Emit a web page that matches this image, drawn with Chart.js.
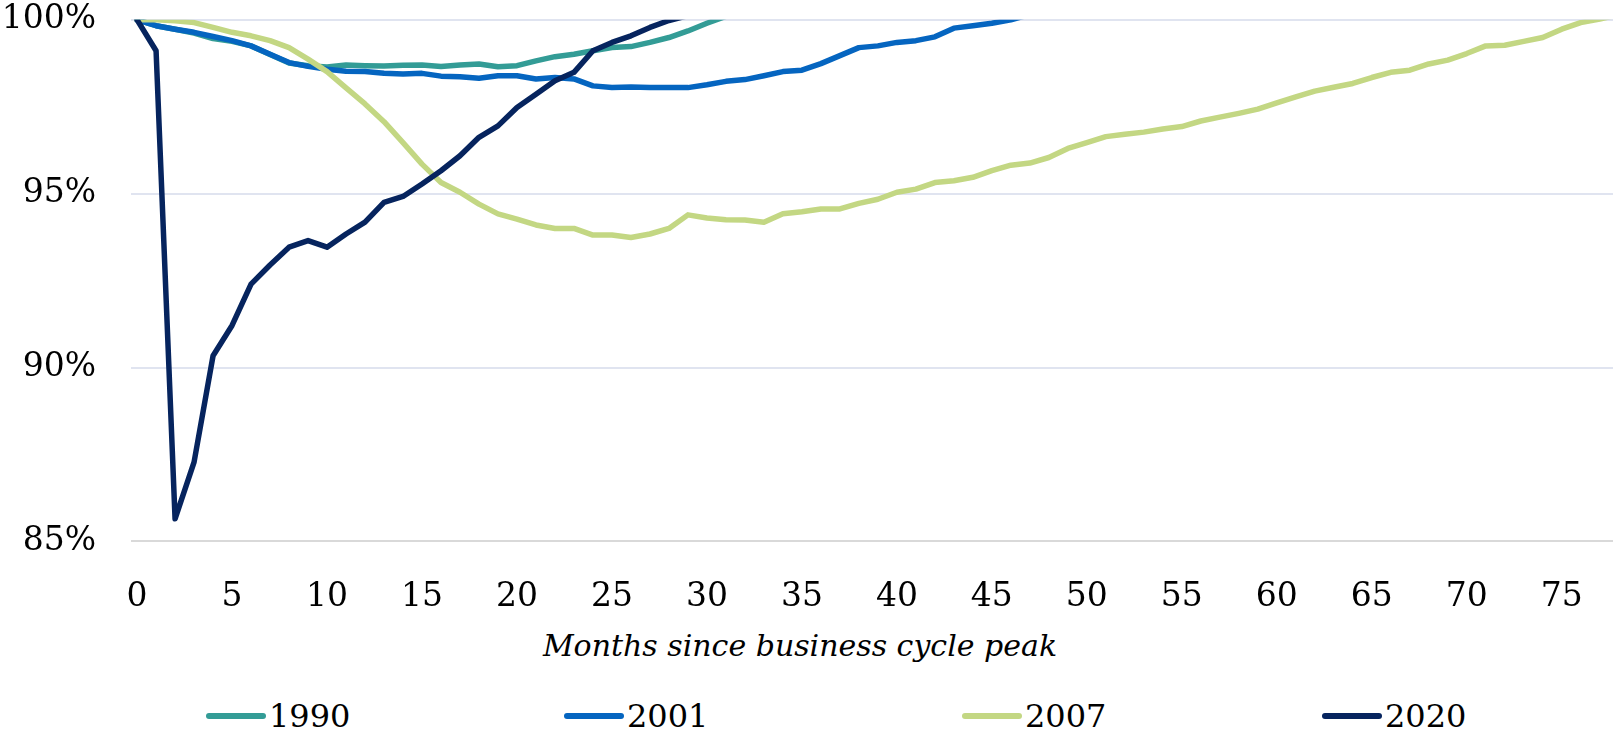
<!DOCTYPE html>
<html>
<head>
<meta charset="utf-8">
<script src="https://cdn.jsdelivr.net/npm/chart.js@4"></script>
<style>
    body { margin: 0; background: #fff; width: 1613px; height: 738px; overflow: hidden; position: relative; font-family: "DejaVu Serif", serif; color: #000; }
    #wrap { position: absolute; left: 0; top: 0; width: 1613px; height: 620px; }
    #xtitle { position: absolute; left: 500px; width: 600px; top: 628px; line-height: 36px; text-align: center; font-size: 30px; font-style: italic; }
    #legend { position: absolute; left: 0; top: 696px; height: 40px; width: 1613px; font-size: 32px; }
    .leg-item { position: absolute; top: 0; display: flex; align-items: center; line-height: 40px; }
    .leg-item:nth-child(1) { left: 206px; }
    .leg-item:nth-child(2) { left: 564px; }
    .leg-item:nth-child(3) { left: 962px; }
    .leg-item:nth-child(4) { left: 1322px; }
    .leg-line { width: 60px; height: 6px; border-radius: 3px; margin-right: 3px; }
</style>
</head>
<body>
<div id="wrap"><canvas id="chart"></canvas></div>
<div id="xtitle"></div>
<div id="legend"></div>
<script>
// payroll employment, % of level at business cycle peak (month 0)
const series1990 = [100, 99.83, 99.73, 99.62, 99.46, 99.38, 99.25, 99.0, 98.76, 98.68,
    98.64, 98.7, 98.68, 98.67, 98.69, 98.70, 98.66, 98.70, 98.73, 98.65,
    98.68, 98.82, 98.94, 99.01, 99.11, 99.20, 99.23, 99.35, 99.49, 99.68,
    99.9, 100.1];
const series2001 = [100, 99.83, 99.73, 99.64, 99.52, 99.40, 99.25, 99.01, 98.77, 98.66,
    98.58, 98.52, 98.51, 98.46, 98.44, 98.46, 98.38, 98.36, 98.32, 98.39,
    98.39, 98.30, 98.34, 98.30, 98.10, 98.05, 98.07, 98.05, 98.05, 98.05,
    98.13, 98.23, 98.28, 98.39, 98.51, 98.55, 98.74, 98.97, 99.20, 99.25,
    99.35, 99.40, 99.51, 99.76, 99.83, 99.90, 100.0, 100.15];
const series2007 = [100, 100, 99.97, 99.92, 99.78, 99.64, 99.54, 99.40, 99.20, 98.87,
    98.51, 98.04, 97.58, 97.07, 96.47, 95.85, 95.32, 95.04, 94.70, 94.42,
    94.27, 94.10, 94.00, 94.00, 93.81, 93.81, 93.74, 93.84, 94.00, 94.39,
    94.30, 94.25, 94.24, 94.18, 94.42, 94.48, 94.56, 94.56, 94.72, 94.84,
    95.04, 95.13, 95.32, 95.37, 95.47, 95.66, 95.82, 95.88, 96.04, 96.30,
    96.47, 96.64, 96.71, 96.77, 96.86, 96.93, 97.09, 97.20, 97.31, 97.43,
    97.61, 97.78, 97.95, 98.06, 98.17, 98.34, 98.49, 98.55, 98.73, 98.84,
    99.03, 99.25, 99.27, 99.38, 99.49, 99.73, 99.92, 100.02, 100.15];
const series2020 = [100, 99.11, 85.65, 87.28, 90.34, 91.21, 92.40, 92.95, 93.46, 93.65,
    93.46, 93.84, 94.18, 94.75, 94.92, 95.28, 95.66, 96.09, 96.62, 96.95,
    97.48, 97.86, 98.25, 98.49, 99.11, 99.35, 99.54, 99.78, 99.98, 100.12];

const seriesNames = ['1990', '2001', '2007', '2020'];
const seriesColors = ['#339c96', '#0565c0', '#c3d783', '#06245e'];
const seriesValues = [series1990, series2001, series2007, series2020];
const xTitle = 'Months since business cycle peak';

const serif = "'DejaVu Serif', serif";

document.getElementById('xtitle').textContent = xTitle;

// html legend, spread out like the original
const legend = document.getElementById('legend');
seriesNames.forEach((name, i) => {
    const item = document.createElement('div');
    item.className = 'leg-item';
    item.innerHTML = `<span class="leg-line" style="background:${seriesColors[i]}"></span><span>${name}</span>`;
    legend.appendChild(item);
});

const datasets = seriesValues.map((vals, i) => ({
    label: seriesNames[i],
    data: vals.map((v, m) => ({ x: m, y: v })),
    borderColor: seriesColors[i],
    backgroundColor: seriesColors[i],
    borderWidth: 5.5,
    borderJoinStyle: 'round',
    borderCapStyle: 'round',
    pointRadius: 0,
    tension: 0,
    order: seriesValues.length - i
}));

new Chart(document.getElementById('chart'), {
    type: 'line',
    data: { datasets },
    options: {
        responsive: true,
        maintainAspectRatio: false,
        animation: false,
        layout: { padding: { top: 19, right: 0, bottom: 3, left: 0 } },
        plugins: { legend: { display: false }, tooltip: { enabled: false } },
        scales: {
            x: {
                type: 'linear',
                min: -0.32,
                max: 77.7,
                grid: { display: false, drawTicks: true, tickLength: 36 },
                border: { display: false },
                ticks: {
                    stepSize: 5,
                    includeBounds: false,
                    maxRotation: 0,
                    padding: 0,
                    color: '#000',
                    font: { family: serif, size: 33 }
                }
            },
            y: {
                min: 85,
                max: 100,
                afterFit: (scale) => { scale.width = 131; },
                grid: {
                    drawTicks: true,
                    tickLength: 35,
                    tickColor: 'rgba(0,0,0,0)',
                    lineWidth: 2,
                    color: (c) => c.tick && c.tick.value === 85 ? '#d9d9d9' : '#e0e4f0'
                },
                border: { display: false },
                ticks: {
                    stepSize: 5,
                    padding: 0,
                    color: '#000',
                    font: { family: serif, size: 33 },
                    callback: (v) => v + '%'
                }
            }
        }
    }
});
</script>
</body>
</html>
